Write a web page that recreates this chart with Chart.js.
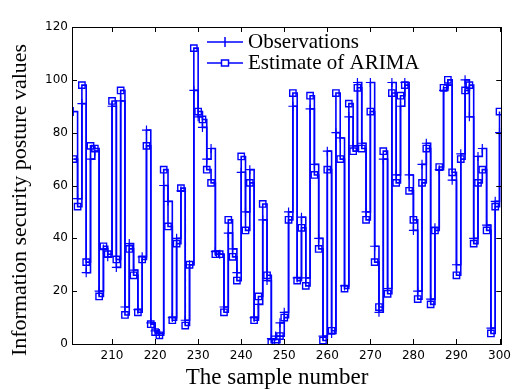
<!DOCTYPE html>
<html>
<head>
<meta charset="utf-8">
<script src="https://cdn.jsdelivr.net/npm/chart.js@4.4.1/dist/chart.umd.min.js"></script>
<style>
  html, body { margin: 0; padding: 0; background: #fff; }
  #wrap { width: 516px; height: 390px; }
</style>
</head>
<body>
<div id="wrap"><canvas id="chart" width="516" height="390"></canvas></div>
<script>
// sample numbers on the x axis
const samples = [
  201, 202, 203, 204, 205, 206, 207, 208, 209, 210,
  211, 212, 213, 214, 215, 216, 217, 218, 219, 220,
  221, 222, 223, 224, 225, 226, 227, 228, 229, 230,
  231, 232, 233, 234, 235, 236, 237, 238, 239, 240,
  241, 242, 243, 244, 245, 246, 247, 248, 249, 250,
  251, 252, 253, 254, 255, 256, 257, 258, 259, 260,
  261, 262, 263, 264, 265, 266, 267, 268, 269, 270,
  271, 272, 273, 274, 275, 276, 277, 278, 279, 280,
  281, 282, 283, 284, 285, 286, 287, 288, 289, 290,
  291, 292, 293, 294, 295, 296, 297, 298, 299, 300
];

const observations = [
  88, 55, 91, 27, 70, 73, 20, 36, 33, 90,
  29, 92, 14, 38, 28, 13, 33, 81, 8, 5,
  4, 60, 54, 10, 40, 58, 9, 30, 96, 86,
  82, 70, 74, 35, 34, 14, 42, 36, 27, 65,
  50, 66, 10, 15, 47, 24, 2, 3, 8, 12,
  50, 90, 25, 48, 25, 89, 68, 40, 3, 73,
  4, 80, 78, 22, 86, 75, 99, 76, 50, 99,
  37, 12, 70, 21, 99, 64, 90, 99, 64, 43,
  20, 68, 76, 17, 44, 66, 96, 98, 62, 30,
  72, 100, 86, 40, 71, 74, 45, 6, 54, 80
];

// ARIMA estimates
const estimates = [
  70, 52, 98, 31, 75, 74, 18, 37, 34, 92,
  32, 96, 11, 36, 26, 12, 32, 75, 7.5, 4.5,
  3.3, 66, 44.5, 9, 38, 59, 7, 30, 112, 88,
  85, 66, 61, 34, 34, 12, 47, 33, 24, 71,
  43, 61, 9, 18, 53, 26, 0.5, 0.5, 3, 10,
  47, 95, 24, 44, 22, 94, 64, 36, 1.3, 66,
  5, 95, 70, 21, 91, 73, 97, 74, 47, 88,
  31, 14, 73, 19, 95, 61, 94, 98, 58, 47,
  17, 61, 74, 15, 43, 67, 97, 100, 65, 26,
  70, 96, 98, 38, 61, 66, 43, 4, 52, 88
];

const xTicks = [210, 220, 230, 240, 250, 260, 270, 280, 290, 300];
const yTicks = [0, 20, 40, 60, 80, 100, 120];

const BLUE = '#0000ff';
const SERIF = '"Liberation Serif", "DejaVu Serif", serif';

const toPoints = vals => samples.map((s, i) => ({ x: s, y: vals[i] }));

// box, inward ticks, legend and axis titles, matlab style
const framePlugin = {
  id: 'frame',
  afterDraw(chart) {
    const { ctx, chartArea: a, scales: { x, y } } = chart;
    ctx.save();
    ctx.strokeStyle = '#000';
    ctx.lineWidth = 1;
    ctx.strokeRect(Math.round(a.left) + 0.5, Math.round(a.top) + 0.5,
      Math.round(a.right - a.left), Math.round(a.bottom - a.top));

    const tl = 5;
    ctx.beginPath();
    xTicks.forEach(v => {
      const px = Math.round(x.getPixelForValue(v)) + 0.5;
      ctx.moveTo(px, a.bottom); ctx.lineTo(px, a.bottom - tl);
      ctx.moveTo(px, a.top); ctx.lineTo(px, a.top + tl);
    });
    yTicks.forEach(v => {
      const py = Math.round(y.getPixelForValue(v)) + 0.5;
      ctx.moveTo(a.left, py); ctx.lineTo(a.left + tl, py);
      ctx.moveTo(a.right, py); ctx.lineTo(a.right - tl, py);
    });
    ctx.stroke();

    // legend
    ctx.strokeStyle = BLUE;
    ctx.lineWidth = 1.5;
    const lx0 = 207, lx1 = 243, mx = 225;
    const rows = [42, 63];
    rows.forEach(ry => {
      ctx.beginPath();
      ctx.moveTo(lx0, ry); ctx.lineTo(lx1, ry);
      ctx.stroke();
    });
    ctx.beginPath();
    ctx.moveTo(mx, rows[0] - 5); ctx.lineTo(mx, rows[0] + 5);
    ctx.stroke();
    ctx.fillStyle = '#fff';
    ctx.fillRect(mx - 3.5, rows[1] - 3, 7, 6);
    ctx.strokeRect(mx - 3.5, rows[1] - 3, 7, 6);

    ctx.fillStyle = '#000';
    ctx.font = '21px ' + SERIF;
    ctx.textAlign = 'left';
    ctx.textBaseline = 'middle';
    ctx.fillText('Observations', 248, rows[0]);
    ctx.fillText('Estimate of ARIMA', 248, rows[1]);

    // axis titles
    ctx.font = '23px ' + SERIF;
    ctx.textAlign = 'center';
    ctx.fillText('The sample number', 277, 378);
    ctx.font = '22px ' + SERIF;
    ctx.translate(20, 200);
    ctx.rotate(-Math.PI / 2);
    ctx.fillText('Information security posture values', 0, 0);
    ctx.restore();
  }
};

new Chart(document.getElementById('chart'), {
  type: 'line',
  data: {
    datasets: [
      {
        label: 'Observations',
        data: toPoints(observations),
        borderColor: BLUE,
        borderWidth: 1.6,
        stepped: 'before',
        pointStyle: 'cross',
        pointRadius: 4.5,
        pointBorderColor: BLUE,
        pointBorderWidth: 1.2,
        tension: 0
      },
      {
        label: 'Estimate of ARIMA',
        data: toPoints(estimates),
        borderColor: BLUE,
        borderWidth: 1.6,
        stepped: 'before',
        pointStyle: 'rect',
        pointRadius: 4.5,
        pointBorderColor: BLUE,
        pointBackgroundColor: 'rgba(255,255,255,0)',
        pointBorderWidth: 1.4,
        tension: 0
      }
    ]
  },
  options: {
    responsive: false,
    animation: false,
    layout: { padding: { left: 0, right: 6, top: 27, bottom: 0 } },
    plugins: {
      legend: { display: false },
      tooltip: { enabled: false }
    },
    scales: {
      x: {
        type: 'linear',
        min: 200.7,
        max: 300.4,
        grid: { display: false, drawTicks: false },
        border: { display: false },
        afterBuildTicks: s => { s.ticks = xTicks.map(v => ({ value: v })); },
        afterFit: s => { s.height = 46; },
        ticks: {
          padding: 5,
          color: '#000',
          font: { family: '"DejaVu Sans", sans-serif', size: 12 },
          maxRotation: 0,
          autoSkip: false
        }
      },
      y: {
        min: 0,
        max: 120,
        grid: { display: false, drawTicks: false },
        border: { display: false },
        afterBuildTicks: s => { s.ticks = yTicks.map(v => ({ value: v })); },
        afterFit: s => { s.width = 72; },
        ticks: {
          padding: 4,
          color: '#000',
          font: { family: '"DejaVu Sans", sans-serif', size: 12 }
        }
      }
    }
  },
  plugins: [framePlugin]
});
</script>
</body>
</html>
